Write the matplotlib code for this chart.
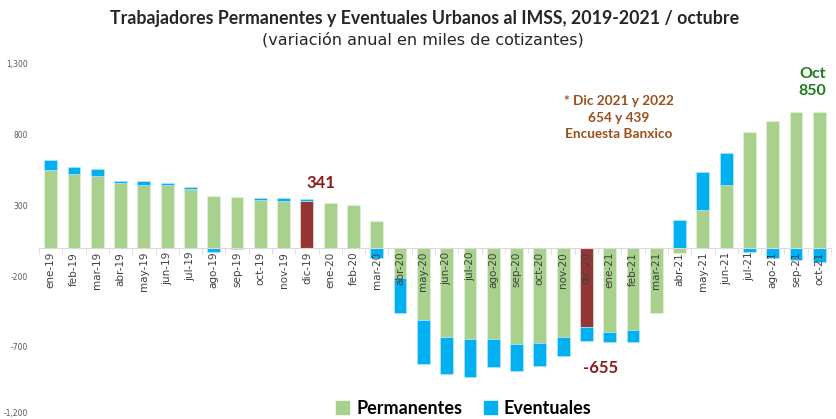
"""Trabajadores permanentes y eventuales urbanos al IMSS, variación anual (miles)."""
import matplotlib
matplotlib.use("Agg")
import matplotlib.pyplot as plt
import numpy as np

plt.rcParams["font.family"] = ["Lato", "DejaVu Sans"]

MESES = ["ene-19", "feb-19", "mar-19", "abr-19", "may-19", "jun-19", "jul-19",
         "ago-19", "sep-19", "oct-19", "nov-19", "dic-19",
         "ene-20", "feb-20", "mar-20", "abr-20", "may-20", "jun-20", "jul-20",
         "ago-20", "sep-20", "oct-20", "nov-20", "dic-20",
         "ene-21", "feb-21", "mar-21", "abr-21", "may-21", "jun-21", "jul-21",
         "ago-21", "sep-21", "oct-21"]
PERMANENTES = [545, 515, 503, 454, 440, 440, 414, 362, 358, 337, 327, 328,
               313, 297, 187, -212, -510, -628, -644, -644, -677, -670, -628, -562,
               -595, -581, -459, -41, 264, 440, 813, 890, 954, 954]
EVENTUALES = [71, 56, 50, 16, 30, 12, 10, -30, -8, 9, 19, 13,
              -5, -5, -72, -251, -310, -262, -265, -199, -192, -162, -134, -94,
              -73, -87, 0, 194, 265, 225, -34, -74, -88, -102]
DESTACADOS = ["dic-19", "dic-20"]  # diciembres en rojo

VERDE = "#A9D18E"
AZUL = "#00B0F0"
ROJO = "#943634"

perm = np.array(PERMANENTES, dtype=float)
even = np.array(EVENTUALES, dtype=float)
x = np.arange(len(MESES))
# pila tipo Excel: positivos y negativos se apilan por separado
base_even = np.where(np.sign(even) == np.sign(perm), perm, 0)
colores = [ROJO if m in DESTACADOS else VERDE for m in MESES]

fig = plt.figure(figsize=(8.36, 4.19), dpi=100)
ax = fig.add_axes([0.0467, 0.0024, 0.9473, 0.8472])

ax.bar(x, perm, width=0.55, color=colores, edgecolor="#E8F2E0", linewidth=0.4)
ax.bar(x, even, width=0.55, bottom=base_even, color=AZUL, edgecolor="#BFEAFB", linewidth=0.4)

ax.set_xlim(-0.5, len(MESES) - 0.5)
ax.set_ylim(-1200, 1300)
ax.set_yticks([1300, 800, 300, -200, -700, -1200])
ax.set_yticklabels(["1,300", "800", "300", "-200", "-700", "-1,200"],
                   fontsize=5.5, color="#595959", family="DejaVu Sans")
ax.tick_params(axis="y", length=0, pad=8)
ax.get_yticklabels()[-1].set_va("bottom")

for s in ["top", "right", "left"]:
    ax.spines[s].set_visible(False)
ax.spines["bottom"].set_position(("data", 0))
ax.spines["bottom"].set_color("#D9D9D9")
ax.set_xticks(x)
ax.set_xticklabels(MESES, rotation=90, fontsize=7.5, color="#404040", va="top",
                   family="DejaVu Sans")
ax.tick_params(axis="x", length=0, pad=3)
ax.set_xticks(np.arange(-0.5, len(MESES), 1), minor=True)
ax.tick_params(axis="x", which="minor", length=4, color="#D9D9D9")

ax.text(11.6, 420, "341", color="#8B1A1A", fontsize=12, fontweight="bold", ha="center")
ax.text(23.6, -880, "-655", color="#8B1A1A", fontsize=12, fontweight="bold", ha="center")
ax.text(24.4, 757, "* Dic 2021 y 2022\n654 y 439\nEncuesta Banxico",
        color="#9C4F1A", fontsize=9.8, fontweight="bold", ha="center", va="bottom",
        linespacing=1.45)
ax.text(32.7, 1052, "Oct\n850", color="#1E7B1E", fontsize=11.5, fontweight="bold",
        ha="center", va="bottom", linespacing=1.25)

fig.text(0.508, 0.955, "Trabajadores Permanentes y Eventuales Urbanos al IMSS, 2019-2021 / octubre",
         ha="center", va="center", fontsize=12.8, fontweight="bold", color="#262626")
fig.text(0.506, 0.905, "(variación anual en miles de cotizantes)",
         ha="center", va="center", fontsize=11.5, color="#262626", family="DejaVu Sans")

manejadores = [plt.Rectangle((0, 0), 1, 1, color=VERDE), plt.Rectangle((0, 0), 1, 1, color=AZUL)]
fig.legend(manejadores, ["Permanentes", "Eventuales"], loc="center",
           bbox_to_anchor=(0.555, 0.025), ncol=2, frameon=False,
           prop={"size": 13, "weight": "bold"}, handlelength=0.7, handleheight=0.7,
           handletextpad=0.4, columnspacing=1.2)

fig.savefig("out.png", dpi=100)
